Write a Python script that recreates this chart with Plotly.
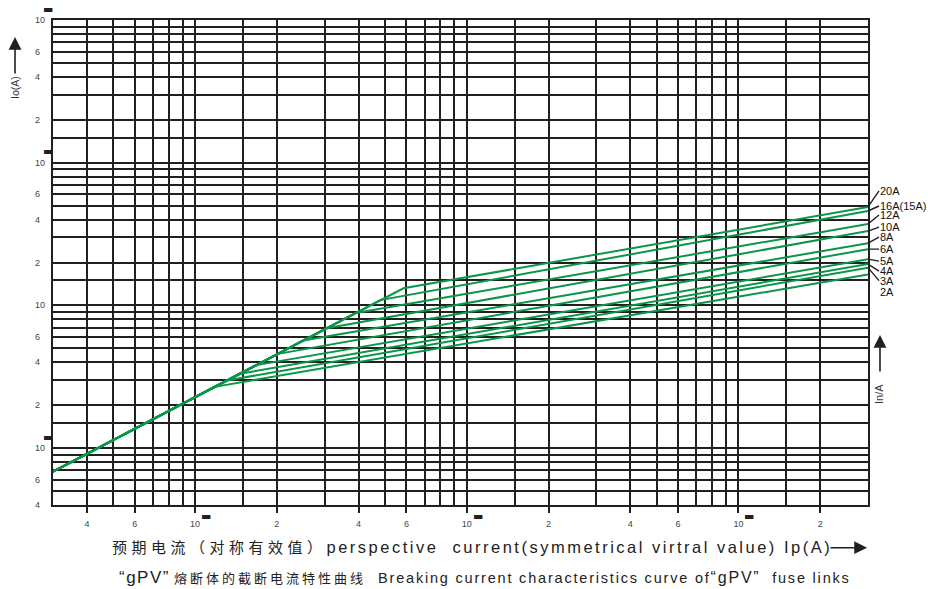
import numpy as np
import plotly.graph_objects as go

# ---------------- data ----------------
ratings = ["20A", "16A(15A)", "12A", "10A", "8A", "6A", "5A", "4A", "3A", "2A"]
start_ip = 3.0
start_ic = 6.85
kink_ip = [58.5, 48.0, 39.0, 30.5, 25.0, 20.2, 16.8, 14.6, 13.1, 11.8]
kink_ic = [132.0, 109.0, 88.5, 69.2, 56.8, 45.8, 38.2, 33.2, 29.8, 26.9]
end_ip = 3000.0
end_ic = [490.0, 459.0, 372.0, 332.0, 273.0, 248.0, 211.0, 195.0, 184.0, 165.0]

x_grid = [3, 4, 5, 6, 7, 8, 9, 10, 15, 20, 30, 40, 50, 60, 70, 80, 90,
          100, 150, 200, 300, 400, 500, 600, 700, 800, 900, 1000, 1500, 2000, 3000]
x_label_vals = [4, 6, 10, 20, 40, 60, 100, 200, 400, 600, 1000, 2000]
x_label_text = ["4", "6", "10", "2", "4", "6", "10", "2", "4", "6", "10", "2"]
y_grid = [4, 5, 6, 7, 8, 9, 10, 15, 20, 30, 40, 50, 60, 70, 80, 90,
          100, 150, 200, 300, 400, 500, 600, 700, 800, 900,
          1000, 1500, 2000, 3000, 4000, 5000, 6000, 7000, 8000, 9000, 10000]
y_label_vals = [4, 6, 10, 20, 40, 60, 100, 200, 400, 600, 1000, 2000, 4000, 6000, 10000]
y_label_text = ["4", "6", "10", "2", "4", "6", "10", "2", "4", "6", "10", "2", "4", "6", "10"]
exp_marks_x = [10, 100, 1000]
exp_marks_y = [10, 1000, 10000]

# ---------------- styles ----------------
GREEN = "#0a9648"
INK = "#231f20"
LABEL_DY = [-16, -5, -9, -4, -6, 0, 2, 7, 13, 18]

fig = go.Figure()
for name, kx, ky, ey in zip(ratings, kink_ip, kink_ic, end_ic):
    fig.add_trace(go.Scatter(
        x=[start_ip, kx, end_ip], y=[start_ic, ky, ey], mode="lines",
        line=dict(color=GREEN, width=2), name=name, showlegend=False,
        hoverinfo="skip"))

x_minor = [v for v in x_grid if v not in x_label_vals]
y_minor = [v for v in y_grid if v not in y_label_vals]

fig.update_xaxes(
    type="log", range=[np.log10(x_grid[0]), np.log10(x_grid[-1])],
    tickmode="array", tickvals=x_label_vals, ticktext=x_label_text,
    ticks="outside", ticklen=6, tickwidth=2, tickcolor=INK,
    ticklabelstandoff=3,
    tickfont=dict(family="Liberation Sans", size=9, color="#444"),
    showgrid=True, gridcolor=INK, gridwidth=2,
    minor=dict(tickmode="array", tickvals=x_minor, showgrid=True,
               gridcolor=INK, gridwidth=2, ticks=""),
    showline=True, linecolor=INK, linewidth=2, mirror=True, zeroline=False)
fig.update_yaxes(
    type="log", range=[np.log10(y_grid[0]), np.log10(y_grid[-1])],
    tickmode="array", tickvals=y_label_vals, ticktext=y_label_text,
    showticklabels=False, ticks="",
    showgrid=True, gridcolor=INK, gridwidth=2,
    minor=dict(tickmode="array", tickvals=y_minor, showgrid=True,
               gridcolor=INK, gridwidth=2, ticks=""),
    showline=True, linecolor=INK, linewidth=2, mirror=True, zeroline=False)

ann = []
# y tick labels (left aligned like the reference)
for v, t in zip(y_label_vals, y_label_text):
    ann.append(dict(x=0, xref="paper", xshift=-20, xanchor="left",
                    y=np.log10(v), yref="y", yanchor="middle", text=t,
                    showarrow=False,
                    font=dict(family="Liberation Sans", size=9, color="#444")))
# exponent placeholder bars
for v in exp_marks_y:
    ann.append(dict(x=0, xref="paper", xshift=-5, xanchor="center",
                    y=np.log10(v), yref="y", yshift=11, yanchor="middle",
                    text="▬", showarrow=False,
                    font=dict(family="DejaVu Sans", size=11, color=INK)))
for v in exp_marks_x:
    ann.append(dict(x=np.log10(v), xref="x", xshift=11, xanchor="center",
                    y=0, yref="paper", yshift=-11, yanchor="middle",
                    text="▬", showarrow=False,
                    font=dict(family="DejaVu Sans", size=11, color=INK)))
# curve labels with leader lines
for name, ey, dy in zip(ratings, end_ic, LABEL_DY):
    ann.append(dict(x=np.log10(end_ip), xref="x", y=np.log10(ey), yref="y",
                    text=name, showarrow=True, arrowhead=0, arrowwidth=1.4,
                    arrowcolor=INK, ax=11, ay=dy, xanchor="left",
                    yanchor="middle", standoff=0, borderpad=0,
                    font=dict(family="Liberation Sans", size=11, color="#111")))
# axis names and arrows
ann.append(dict(x=-0.0466, xref="paper", y=0.86, yref="paper", text="Io(A)",
                textangle=-90, showarrow=False, xanchor="center", yanchor="middle",
                font=dict(family="Liberation Sans", size=10.5, color="#333")))
ann.append(dict(x=-0.0466, xref="paper", y=0.965, yref="paper", text="",
                showarrow=True, arrowhead=2, arrowsize=1.6, arrowwidth=1.6,
                arrowcolor=INK, ax=0, ay=38, standoff=0))
ann.append(dict(x=1.0135, xref="paper", y=0.229, yref="paper", text="In/A",
                textangle=-90, showarrow=False, xanchor="center", yanchor="middle",
                font=dict(family="Liberation Sans", size=11, color="#333")))
ann.append(dict(x=1.0147, xref="paper", y=0.3505, yref="paper", text="",
                showarrow=True, arrowhead=2, arrowsize=1.6, arrowwidth=1.6,
                arrowcolor=INK, ax=0, ay=38, standoff=0))
xtitle = ('<span style="font-size:15px;letter-spacing:4.5px">预期电流（对称有效值）</span>'
          '<span style="letter-spacing:2.5px">perspective&nbsp; current(symmetrical virtral value)&nbsp;Ip(A)</span>')
ann.append(dict(x=0.07, xref="paper", y=-0.0866, yref="paper", text=xtitle,
                xanchor="left", yanchor="middle", showarrow=False,
                font=dict(family="Liberation Sans, Noto Sans CJK SC", size=16.5, color="#222")))
ann.append(dict(x=0.9988, xref="paper", y=-0.088, yref="paper", text="",
                showarrow=True, arrowhead=2, arrowsize=1.6, arrowwidth=1.6,
                arrowcolor=INK, ax=-38, ay=0, standoff=0))
subtitle = ('<span style="font-size:17px;letter-spacing:1.5px">“gPV”</span> '
            '<span style="font-size:13px;letter-spacing:3px">熔断体的截断电流特性曲线</span>'
            '&nbsp;&nbsp; <span style="letter-spacing:1.8px">Breaking current characteristics curve of'
            '<span style="font-size:16px">“gPV”</span>&nbsp;&nbsp;fuse links</span>')
ann.append(dict(x=0.0785, xref="paper", y=-0.1505, yref="paper", text=subtitle,
                xanchor="left", yanchor="middle", showarrow=False,
                font=dict(family="Liberation Sans, Noto Sans CJK SC", size=14.5, color="#222")))

fig.update_layout(
    width=928, height=589, margin=dict(l=53, r=60, t=20, b=84),
    paper_bgcolor="white", plot_bgcolor="white", showlegend=False,
    annotations=ann)

fig.write_html("out.html", config={"displayModeBar": False},
               post_script="document.body.style.margin='0px';"
                           "document.body.style.overflow='hidden';")
